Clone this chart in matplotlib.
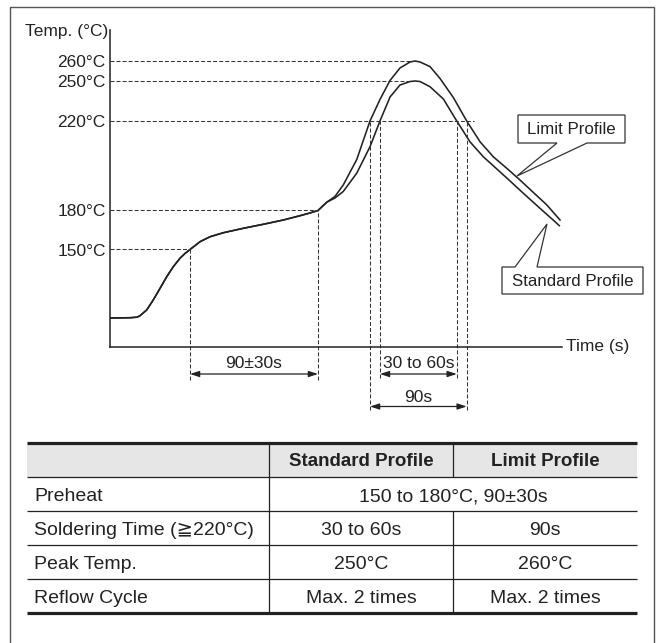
import numpy as np
import matplotlib.pyplot as plt
from matplotlib.patches import Polygon, Rectangle
from matplotlib.transforms import Affine2D, blended_transform_factory

plt.rcParams['font.family'] = ['Liberation Sans', 'DejaVu Sans', 'Noto Sans CJK JP']

# ---- data (time in s, temperature in degC) ----
COMMON_T = [0, 14.1, 19.0, 21.1, 25.8, 30.4, 35.2, 39.9, 44.5, 49.2, 52.7, 56.25,
            63.3, 70.3, 79.7, 93.7, 107.8, 121.9, 133.6, 140.6, 146.25, 152.4]
COMMON_TEMP = [25, 25.5, 26.5, 29.2, 39.6, 57.9, 79.2, 100.4, 118.6, 134.0, 142.7, 150,
               156.0, 159.8, 162.9, 166.3, 169.4, 172.7, 176.0, 178.1, 180, 183.7]

LIM_T = [158.2, 164.0, 173.5, 182.8, 189.8, 196.9, 203.9, 210.9, 214.5, 218.0, 225.0,
         232.0, 241.4, 250.8, 260.2, 269.5, 278.9, 288.3, 297.6, 307.1, 316.4]
LIM_TEMP = [186.3, 191.4, 202.8, 220, 236.1, 250.3, 256.5, 259.5, 260, 259.5, 257.2,
            251.3, 237.6, 220, 210.7, 204.0, 198.9, 193.6, 188.1, 182.5, 172.7]

STD_T = [158.2, 164.0, 173.5, 182.8, 189.8, 196.9, 203.9, 210.9, 214.5, 218.0, 225.0,
         234.4, 243.8, 253.1, 262.5, 271.9, 281.25, 290.6, 302.3, 314.1, 315.9]
STD_TEMP = [185.6, 188.5, 196.7, 208.5, 220, 238, 247, 249.6, 250, 249.6, 245.7,
            236.5, 220, 210.7, 204.0, 198.6, 193.2, 187.7, 181.0, 170.2, 168.3]

TICK_TEMPS = [150, 180, 220, 250, 260]
GUIDE_END_T = [56.25, 146.25, 255.9, 211.0, 214.5]   # where each dashed level line stops

PREHEAT_T = (56.25, 146.25)
SOLDER_STD_T = (189.8, 243.8)
SOLDER_LIM_T = (182.8, 250.8)

TABLE_HEAD = ['', 'Standard Profile', 'Limit Profile']
ROW_NAMES = ['Preheat', 'Soldering Time (≧220°C)', 'Peak Temp.', 'Reflow Cycle']
STD_VALUES = ['150 to 180°C, 90±30s', '30 to 60s', '250°C', 'Max. 2 times']
LIM_VALUES = [None, '90s', '260°C', 'Max. 2 times']   # None = merged with left cell

# ---- schematic (non linear) temperature axis ----
T_KNOTS = [-200, 0, 25, 150, 180, 220, 250, 260, 300]
H_KNOTS = [-232, 0, 29, 97.5, 136.5, 226, 266, 286, 366]
def fwd(t):
    return np.interp(t, T_KNOTS, H_KNOTS)
def inv(h):
    return np.interp(h, H_KNOTS, T_KNOTS)
Y_TOP = 275.5
def yfrac(t):
    return fwd(t) / fwd(Y_TOP)

W, H = 661, 643
INK = '#222222'
FS = 12.5
fig = plt.figure(figsize=(W / 100, H / 100), dpi=100)
px = Affine2D().scale(1 / W, -1 / H).translate(0, 1) + fig.transFigure

ax = fig.add_axes([110 / W, (H - 347) / H, 452 / W, 317 / H])
ax.set_yscale('function', functions=(fwd, inv))
ax.set_xlim(0, 317.8)
ax.set_ylim(0, Y_TOP)
for s in ['top', 'right']:
    ax.spines[s].set_visible(False)
for s in ['left', 'bottom']:
    ax.spines[s].set_linewidth(1.1)
    ax.spines[s].set_color(INK)
ax.set_xticks([])
ax.set_yticks(TICK_TEMPS, labels=[f'{t}°C' for t in TICK_TEMPS])
ax.minorticks_off()
ax.tick_params(axis='y', length=0, pad=3, labelsize=FS, labelcolor=INK)

lim_t = COMMON_T + LIM_T
std_t = COMMON_T + STD_T
ax.plot(lim_t, COMMON_TEMP + LIM_TEMP, color=INK, lw=1.15, solid_joinstyle='round')
ax.plot(std_t, COMMON_TEMP + STD_TEMP, color=INK, lw=1.15, solid_joinstyle='round')

dash = dict(color='#333333', lw=0.75, linestyle=(0, (3.8, 2)))
for temp, tend in zip(TICK_TEMPS, GUIDE_END_T):
    ax.plot([0, tend], [temp, temp], **dash)

# vertical guides
for t in PREHEAT_T:
    temp = np.interp(t, COMMON_T, COMMON_TEMP)
    ax.axvline(t, ymin=-0.104, ymax=yfrac(temp), clip_on=False, **dash)
for t in SOLDER_STD_T:
    ax.axvline(t, ymin=-0.098, ymax=yfrac(220), clip_on=False, **dash)
for t in SOLDER_LIM_T:
    ax.axvline(t, ymin=-0.199, ymax=yfrac(220), clip_on=False, **dash)

bt = blended_transform_factory(ax.transData, ax.transAxes)
arrow = dict(arrowstyle='<|-|>,head_length=0.55,head_width=0.18', color=INK, lw=0.9,
             shrinkA=0, shrinkB=0)
dims = [(PREHEAT_T, -0.0852, -0.0505, '90±30s'),
        (SOLDER_STD_T, -0.0852, -0.0505, '30 to 60s'),
        (SOLDER_LIM_T, -0.1877, -0.158, '90s')]
for (t1, t2), ya, yt, lab in dims:
    ax.annotate('', xy=(t2, ya), xytext=(t1, ya), xycoords=bt, textcoords=bt,
                arrowprops=arrow, annotation_clip=False)
    ax.text((t1 + t2) / 2, yt, lab, transform=bt, ha='center', va='center',
            fontsize=FS, color=INK)

ax.annotate('Temp. (°C)', xy=(0, 1), xycoords='axes fraction', xytext=(-2, -2),
            textcoords='offset pixels', ha='right', va='center', fontsize=FS, color=INK)
ax.annotate('Time (s)', xy=(1, 0), xycoords='axes fraction', xytext=(4, 0),
            textcoords='offset pixels', ha='left', va='center', fontsize=FS, color=INK)

# callouts
lim_box = [(518, 115), (625, 115), (625, 143), (587, 143), (517, 176), (557, 143), (518, 143)]
std_box = [(502, 267), (515, 267), (547, 224), (537, 267), (643, 267), (643, 294), (502, 294)]
for pts in [lim_box, std_box]:
    fig.add_artist(Polygon(pts, closed=True, fc='white', ec='#333333', lw=0.9, transform=px))
fig.text(571.5, 129.5, 'Limit Profile', transform=px, ha='center', va='center',
         fontsize=FS - 0.3, color=INK)
fig.text(572.5, 281, 'Standard Profile', transform=px, ha='center', va='center',
         fontsize=FS - 0.3, color=INK)

# outer frame
fig.add_artist(Rectangle((10, 7), 644, 660, fill=False, ec='#555555', lw=1.0, transform=px))

# ---- table ----
tax = fig.add_axes([27 / W, (H - 613) / H, 610 / W, 170 / H])
tax.set_xlim(0, 610)
tax.set_ylim(5, 0)
tax.axis('off')
cols = [0, 242, 426, 610]
tax.add_patch(Rectangle((0, 0), 610, 1, fc='#e6e6e6', ec='none'))
line = dict(color=INK, solid_capstyle='butt', clip_on=False)
for y in [0, 5]:
    tax.plot([0, 610], [y, y], lw=2.3, **line)
for y in [1, 2, 3, 4]:
    tax.plot([0, 610], [y, y], lw=0.9, **line)
tax.plot([cols[1], cols[1]], [0, 5], lw=0.9, **line)
tax.plot([cols[2], cols[2]], [0, 1], lw=0.9, **line)
tax.plot([cols[2], cols[2]], [2, 5], lw=0.9, **line)

for i, head in enumerate(TABLE_HEAD):
    tax.text((cols[i] + cols[i + 1]) / 2, 0.68, head, ha='center', va='baseline',
             fontsize=13.5, fontweight='bold', color=INK)
for r, (name, sv, lv) in enumerate(zip(ROW_NAMES, STD_VALUES, LIM_VALUES)):
    y = r + 1.72
    tax.text(7, y, name, ha='left', va='baseline', fontsize=14, color=INK)
    if lv is None:
        tax.text((cols[1] + cols[3]) / 2, y, sv, ha='center', va='baseline', fontsize=14, color=INK)
    else:
        tax.text((cols[1] + cols[2]) / 2, y, sv, ha='center', va='baseline', fontsize=14, color=INK)
        tax.text((cols[2] + cols[3]) / 2, y, lv, ha='center', va='baseline', fontsize=14, color=INK)

fig.savefig('out.png', dpi=100)
